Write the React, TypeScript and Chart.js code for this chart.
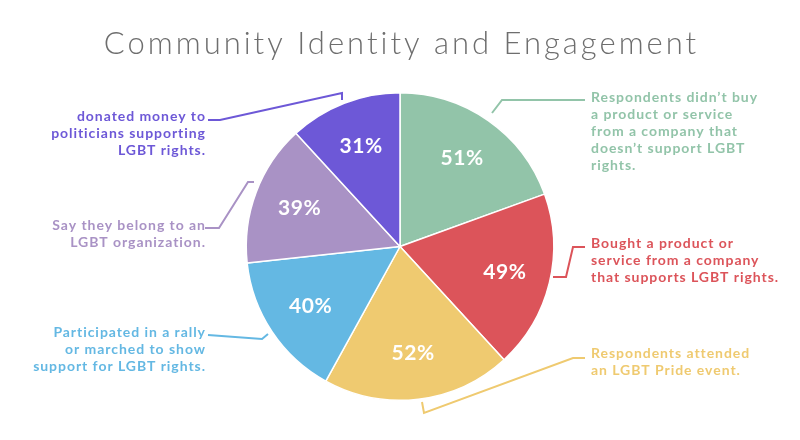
import React, { useEffect, useRef } from "react";
import { Chart, registerables } from "chart.js";

Chart.register(...registerables);

const TITLE = "Community Identity and Engagement";
const values = [51, 49, 52, 40, 39, 31];
const percentLabels = ["51%", "49%", "52%", "40%", "39%", "31%"];
const colors = ["#92C4A9", "#DC545A", "#EFCA70", "#64B8E3", "#A992C5", "#6D58D7"];
const descriptions: string[][] = [
  ["Respondents didn\u2019t buy", "a product or service", "from a company that", "doesn\u2019t support LGBT", "rights."],
  ["Bought a product or", "service from a company", "that supports LGBT rights."],
  ["Respondents attended", "an LGBT Pride event."],
  ["Participated in a rally", "or marched to show", "support for LGBT rights."],
  ["Say they belong to an", "LGBT organization."],
  ["donated money to", "politicians supporting", "LGBT rights."],
];

// Annotation layout (text anchors and leader polylines), in canvas pixels
const annotationLayout = [
  { x: 591, y: 97, align: "left", leader: [[492, 113], [502, 100], [585, 100]] },
  { x: 591, y: 243, align: "left", leader: [[553, 277], [566, 277], [573, 247], [585, 247]] },
  { x: 591, y: 353, align: "left", leader: [[422, 402], [424, 413], [573, 358], [585, 358]] },
  { x: 205, y: 332, align: "right", leader: [[208, 335], [262, 339], [268, 334]] },
  { x: 205, y: 225, align: "right", leader: [[205, 228], [219, 228], [248, 182], [254, 182]] },
  { x: 205, y: 116, align: "right", leader: [[208, 120], [220, 120], [342, 93], [342, 100]] },
];

const LINE_H = 17;

function drawText(ctx: any, text: string, x: number, y: number, align: string, spacing: number) {
  ctx.letterSpacing = spacing + "px";
  let dx = 0;
  if (align === "right") dx = spacing;
  else if (align === "center") dx = spacing / 2;
  ctx.textAlign = align;
  ctx.fillText(text, x + dx, y);
  ctx.letterSpacing = "0px";
}

const annotationPlugin = {
  id: "annotations",
  afterDraw(chart: any) {
    const ctx = chart.ctx as any;
    ctx.save();
    ctx.textBaseline = "middle";
    // title
    ctx.fillStyle = "#6e6e6e";
    ctx.font = "300 31px Lato";
    drawText(ctx, TITLE, 400, 44, "center", 3.0);

    const meta = chart.getDatasetMeta(0);
    meta.data.forEach((arc: any, i: number) => {
      const p = arc.getProps(["x", "y", "startAngle", "endAngle", "outerRadius"], true);
      const mid = (p.startAngle + p.endAngle) / 2;
      const r = p.outerRadius * 0.7;
      ctx.fillStyle = "#ffffff";
      ctx.font = "bold 21px Lato";
      drawText(ctx, percentLabels[i], p.x + Math.cos(mid) * r, p.y + Math.sin(mid) * r, "center", 0.6);

      const a = annotationLayout[i];
      ctx.strokeStyle = colors[i];
      ctx.lineWidth = 2;
      ctx.beginPath();
      a.leader.forEach((pt, k) => (k === 0 ? ctx.moveTo(pt[0], pt[1]) : ctx.lineTo(pt[0], pt[1])));
      ctx.stroke();

      ctx.fillStyle = colors[i];
      ctx.font = "bold 14px Lato";
      descriptions[i].forEach((line, k) => drawText(ctx, line, a.x, a.y + k * LINE_H, a.align, 0.95));
    });
    ctx.restore();
  },
};

export default function App() {
  const ref = useRef<HTMLCanvasElement>(null);
  useEffect(() => {
    if (!ref.current) return;
    const chart = new Chart(ref.current, {
      type: "pie",
      data: {
        labels: percentLabels,
        datasets: [
          {
            data: values,
            backgroundColor: colors,
            borderColor: "#ffffff",
            borderWidth: 1.5,
          },
        ],
      },
      options: {
        responsive: false,
        animation: false,
        layout: { padding: { top: 92, bottom: 39, left: 0, right: 0 } },
        plugins: { legend: { display: false }, tooltip: { enabled: false }, title: { display: false } },
      },
      plugins: [annotationPlugin],
    });
    return () => chart.destroy();
  }, []);
  return (
    <div style={{ position: "absolute", left: 0, top: 0, width: 800, height: 440, background: "#fff" }}>
      <canvas ref={ref} width={800} height={440} />
    </div>
  );
}
